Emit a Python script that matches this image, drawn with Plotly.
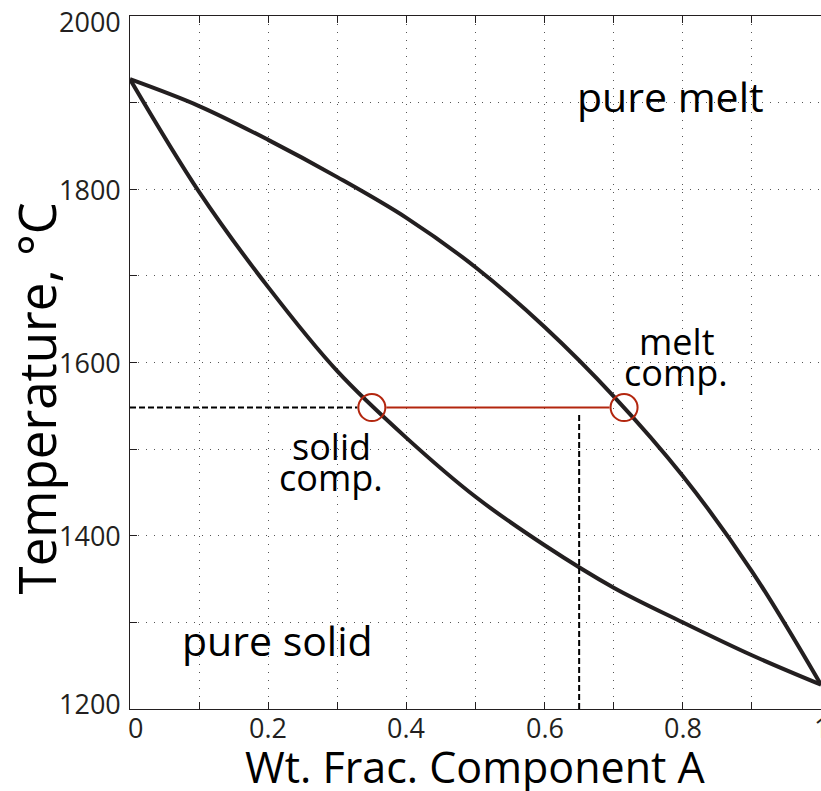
import plotly.graph_objects as go

# Liquidus (upper curve): melt composition vs temperature
liquidus_x = [0.0, 0.1, 0.2, 0.3, 0.4, 0.5, 0.6, 0.7, 0.8, 0.9, 1.0]
liquidus_T = [1927, 1896, 1857, 1814, 1767, 1710, 1641, 1561, 1469, 1359, 1228]

# Solidus (lower curve): solid composition vs temperature
solidus_x = [0.0, 0.1, 0.2, 0.3, 0.4, 0.5, 0.6, 0.7, 0.8, 0.9, 1.0]
solidus_T = [1927, 1797, 1687, 1590, 1513, 1445, 1389, 1340, 1300, 1262, 1228]

# Tie line at the chosen temperature and bulk composition
tie_T = 1548
solid_comp = 0.35
melt_comp = 0.715
bulk_comp = 0.65

x_ticks = [0, 0.2, 0.4, 0.6, 0.8, 1]
x_tick_text = ["0", "0.2", "0.4", "0.6", "0.8", "1"]
y_ticks = [1200, 1400, 1600, 1800, 2000]
y_tick_text = ["1200", "1400", "1600", "1800", "2000"]

W, H = 821, 791
M_L, M_R, M_T, M_B = 130, 0, 16, 82
X_MIN, X_MAX = 0, 1
T_MIN, T_MAX = 1200, 2000

INK = "#231f20"
RED = "#b3260e"
FONT = "Open Sans"

# circle radius expressed in x-data units so line ends stop at the rim
circle_px = 14.5
circle_dx = circle_px * (X_MAX - X_MIN) / (W - M_L - M_R)

fig = go.Figure()

fig.add_trace(go.Scatter(x=liquidus_x, y=liquidus_T, mode="lines",
                         line=dict(color=INK, width=4, shape="spline", smoothing=1.0),
                         hoverinfo="skip"))
fig.add_trace(go.Scatter(x=solidus_x, y=solidus_T, mode="lines",
                         line=dict(color=INK, width=4, shape="spline", smoothing=1.0),
                         hoverinfo="skip"))

# dashed guides: temperature level and bulk composition
fig.add_trace(go.Scatter(x=[X_MIN, solid_comp - circle_dx], y=[tie_T, tie_T], mode="lines",
                         line=dict(color="black", width=2, dash="6px,3px"), hoverinfo="skip"))
fig.add_trace(go.Scatter(x=[bulk_comp, bulk_comp], y=[T_MIN, tie_T - 5], mode="lines",
                         line=dict(color="black", width=2, dash="6px,3px"), hoverinfo="skip"))

# red tie line and the two end-point circles
fig.add_trace(go.Scatter(x=[solid_comp + circle_dx, melt_comp - circle_dx], y=[tie_T, tie_T],
                         mode="lines", line=dict(color=RED, width=2), hoverinfo="skip"))
fig.add_trace(go.Scatter(x=[solid_comp, melt_comp], y=[tie_T, tie_T], mode="markers",
                         marker=dict(symbol="circle-open", size=27, color=RED,
                                     line=dict(color=RED, width=2)),
                         hoverinfo="skip"))

labels = [
    ("pure melt", 0.782, 1908, 41),
    ("pure solid", 0.214, 1280, 41),
    ("melt", 0.791, 1624, 36),
    ("comp.", 0.790, 1589, 36),
    ("solid", 0.291, 1503, 36),
    ("comp.", 0.291, 1467, 36),
]
for txt, lx, ly, size in labels:
    fig.add_annotation(x=lx, y=ly, text=txt, showarrow=False,
                       xanchor="center", yanchor="middle",
                       font=dict(family=FONT, size=size, color="black"))

# tick labels as text next to the axes; end labels are nudged inward
tick_font = dict(family=FONT, size=27, color=INK)
for i, (v, t) in enumerate(zip(x_ticks, x_tick_text)):
    nudge = 5 if i == 0 else 0
    fig.add_annotation(x=v, xref="x", y=0, yref="paper", text=t, showarrow=False,
                       xanchor="center", yanchor="middle", xshift=nudge, yshift=-18,
                       font=tick_font)
for i, (v, t) in enumerate(zip(y_ticks, y_tick_text)):
    nudge = 6 if i == 0 else (-5 if i == len(y_ticks) - 1 else 0)
    fig.add_annotation(x=0, xref="paper", y=v, yref="y", text=t, showarrow=False,
                       xanchor="right", yanchor="middle", xshift=-7, yshift=nudge,
                       font=tick_font)

# axis titles
fig.add_annotation(xref="paper", yref="paper", x=0.4997, y=0, text="Wt. Frac. Component A",
                   showarrow=False, xanchor="center", yanchor="middle", yshift=-57,
                   font=dict(family=FONT, size=43, color="black"))
fig.add_annotation(xref="paper", yref="y", x=-0.1355, y=1559, text="Temperature, °C",
                   textangle=-90, showarrow=False, xanchor="center", yanchor="middle",
                   font=dict(family=FONT, size=51, color="black"))

grid = dict(gridcolor="#555555", gridwidth=1, griddash="1px,7px")

fig.update_xaxes(range=[X_MIN, X_MAX], tickvals=x_ticks, showticklabels=False,
                 showgrid=True, **grid, zeroline=False,
                 showline=True, linecolor=INK, linewidth=1, mirror="allticks",
                 ticks="inside", ticklen=7, tickcolor=INK, tickwidth=1,
                 minor=dict(dtick=0.1, tick0=0, ticks="inside", ticklen=7,
                            tickcolor=INK, showgrid=True, **grid),
                 automargin=False)
fig.update_yaxes(range=[T_MIN, T_MAX], tickvals=y_ticks, showticklabels=False,
                 showgrid=True, **grid, zeroline=False,
                 showline=True, linecolor=INK, linewidth=1, mirror=False,
                 ticks="inside", ticklen=7, tickcolor=INK, tickwidth=1,
                 minor=dict(dtick=100, tick0=1200, ticks="inside", ticklen=7,
                            tickcolor=INK, showgrid=True, **grid),
                 automargin=False)

fig.update_layout(width=W, height=H,
                  margin=dict(l=M_L, r=M_R, t=M_T, b=M_B, pad=0),
                  paper_bgcolor="white", plot_bgcolor="white",
                  showlegend=False)

fig.write_html("out.html")
